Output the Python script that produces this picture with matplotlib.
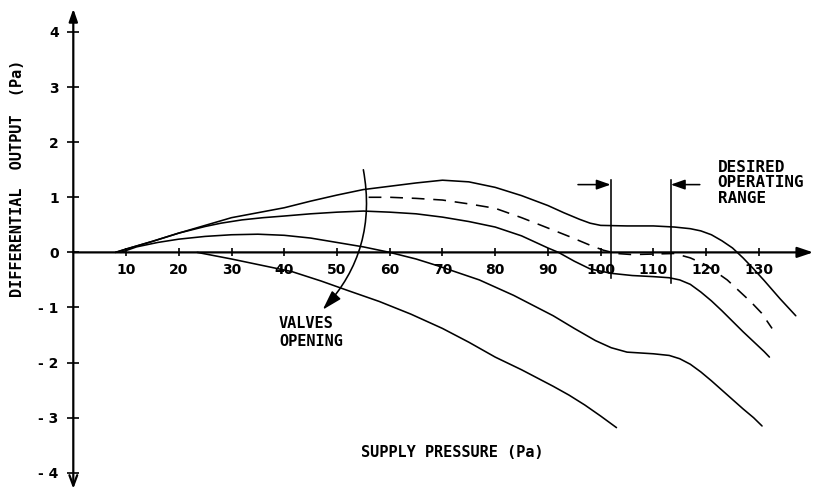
import matplotlib
matplotlib.use("Agg")
import matplotlib.pyplot as plt

# ---- data -------------------------------------------------------------
# Differential output vs supply pressure, one curve per valve setting
curve_a_x = [8, 10, 15, 20, 25, 30, 35, 40, 45, 50, 55, 60, 65, 70, 75, 80, 85,
             90, 93, 96, 98, 100, 105, 110, 114, 117, 119, 121, 123, 125, 127,
             129, 131, 134, 137]
curve_a_y = [0, 0.06, 0.2, 0.35, 0.49, 0.63, 0.72, 0.81, 0.93, 1.04, 1.14, 1.2,
             1.26, 1.31, 1.28, 1.18, 1.03, 0.85, 0.72, 0.6, 0.53, 0.49, 0.48,
             0.48, 0.46, 0.43, 0.39, 0.32, 0.21, 0.08, -0.1, -0.3, -0.51,
             -0.84, -1.15]

curve_b_x = [56, 60, 65, 70, 75, 80, 85, 89, 94, 98, 100.5, 103, 106, 110, 114,
             117, 120, 124, 128.5, 130.5, 132.5]
curve_b_y = [1.0, 1.0, 0.98, 0.95, 0.88, 0.8, 0.63, 0.48, 0.29, 0.13, 0.04,
             -0.02, -0.04, -0.03, -0.02, -0.1, -0.23, -0.5, -0.9, -1.1, -1.38]

curve_c_x = [8, 10, 15, 20, 25, 28, 32, 36, 40, 45, 50, 55, 60, 65, 70, 75, 80,
             85, 90, 92, 95, 98, 102, 106, 110, 113, 115, 117, 119, 121, 123,
             125, 127, 129, 131, 132]
curve_c_y = [0, 0.06, 0.2, 0.35, 0.47, 0.53, 0.59, 0.63, 0.66, 0.7, 0.73, 0.75,
             0.73, 0.7, 0.64, 0.56, 0.46, 0.3, 0.08, 0.0, -0.16, -0.3, -0.38,
             -0.42, -0.44, -0.46, -0.5, -0.58, -0.72, -0.88, -1.06, -1.25,
             -1.44, -1.62, -1.8, -1.9]

curve_d_x = [9, 12, 16, 20, 25, 30, 35, 40, 45, 50, 55, 60, 65, 69, 77, 83.5,
             91, 95, 99, 102, 105, 110, 113, 115, 117, 119, 121, 123, 125, 127,
             129, 130.6]
curve_d_y = [0, 0.1, 0.18, 0.24, 0.29, 0.32, 0.33, 0.31, 0.26, 0.18, 0.1, 0.0,
             -0.12, -0.24, -0.5, -0.78, -1.15, -1.38, -1.6, -1.73, -1.81, -1.84,
             -1.87, -1.93, -2.03, -2.17, -2.33, -2.5, -2.67, -2.84, -3.0, -3.15]

curve_e_x = [23.5, 30, 35, 41.5, 47, 52, 58, 64, 70, 75, 80, 85, 88, 91, 94, 97,
             100, 103]
curve_e_y = [0, -0.12, -0.22, -0.35, -0.52, -0.69, -0.89, -1.12, -1.38, -1.63,
             -1.9, -2.13, -2.28, -2.43, -2.59, -2.77, -2.97, -3.18]

# desired operating range (supply pressure bounds)
range_bounds = [101.9, 113.3]
range_top = 1.32
range_bottom = [-0.47, -0.55]

x_ticks = [10, 20, 30, 40, 50, 60, 70, 80, 90, 100, 110, 120, 130]
x_tick_labels = ["10", "20", "30", "40", "50", "60", "70", "80", "90", "100",
                 "110", "120", "130"]
y_ticks = [4, 3, 2, 1, 0, -1, -2, -3, -4]
y_tick_labels = ["4", "3", "2", "1", "0", "- 1", "- 2", "- 3", "- 4"]

# ---- figure -------------------------------------------------------------
plt.rcParams["font.family"] = ["DejaVu Sans"]
fig = plt.figure(figsize=(8.19, 4.91), dpi=100)
ax = fig.add_axes([0, 0, 1, 1])
ax.set_xlim(-13.9, 141.4)
ax.set_ylim(-4.33, 4.58)

for side in ("top", "right", "left", "bottom"):
    ax.spines[side].set_visible(False)
ax.spines["left"].set_position(("data", 0))
ax.spines["bottom"].set_position(("data", 0))

ax.set_xticks(x_ticks)
ax.set_xticklabels(x_tick_labels)
ax.set_yticks(y_ticks)
ax.set_yticklabels(y_tick_labels)
ax.tick_params(axis="x", direction="inout", length=6, width=1.2, pad=4.5,
               labelsize=10)
ax.tick_params(axis="y", direction="inout", length=9, width=1.2, pad=6,
               labelsize=10)
for lab in ax.get_xticklabels() + ax.get_yticklabels():
    lab.set_fontweight("bold")

# axis lines with arrow heads
arrow_kw = dict(color="black", lw=1.6, shrinkA=0, shrinkB=0)
ax.annotate("", xy=(140.3, 0), xytext=(0, 0),
            arrowprops=dict(arrowstyle="-|>,head_length=0.95,head_width=0.32",
                            **arrow_kw))
ax.annotate("", xy=(0, 4.42), xytext=(0, 0),
            arrowprops=dict(arrowstyle="-|>,head_length=0.75,head_width=0.26",
                            **arrow_kw))
ax.annotate("", xy=(0, -4.29), xytext=(0, 0),
            arrowprops=dict(arrowstyle="->,head_length=0.75,head_width=0.28",
                            **arrow_kw))

# curves
line_kw = dict(color="black", lw=1.15, solid_capstyle="round",
               solid_joinstyle="round")
ax.plot(curve_a_x, curve_a_y, **line_kw)
ax.plot(curve_c_x, curve_c_y, **line_kw)
ax.plot(curve_d_x, curve_d_y, **line_kw)
ax.plot(curve_e_x, curve_e_y, **line_kw)
ax.plot(curve_b_x, curve_b_y, color="black", lw=1.15, dashes=(8, 5.5))

# operating range markers
for xb, yb in zip(range_bounds, range_bottom):
    ax.plot([xb, xb], [range_top, yb], color="black", lw=1.15)
range_arrow = dict(arrowstyle="-|>,head_length=0.85,head_width=0.3",
                   color="black", lw=1.15, shrinkA=0, shrinkB=0)
ax.annotate("", xy=(range_bounds[0], 1.23), xytext=(95.7, 1.23),
            arrowprops=range_arrow)
ax.annotate("", xy=(range_bounds[1], 1.23), xytext=(118.8, 1.23),
            arrowprops=range_arrow)
ax.text(122.2, 1.26, "DESIRED\nOPERATING\nRANGE", family="DejaVu Sans Mono",
        fontsize=11.5, fontweight="bold", ha="left", va="center",
        linespacing=1.05)

# valves-opening arrow
ax.annotate("", xy=(47.3, -1.04), xytext=(55.0, 1.5),
            arrowprops=dict(arrowstyle="-|>,head_length=1.2,head_width=0.36",
                            connectionstyle="arc3,rad=-0.25", color="black",
                            lw=1.15, shrinkA=0, shrinkB=0))
ax.text(39.0, -1.45, "VALVES\nOPENING", family="DejaVu Sans Mono",
        fontsize=11, fontweight="bold", ha="left", va="center",
        linespacing=1.25)

# axis titles
ax.text(71.8, -3.64, "SUPPLY PRESSURE (Pa)", family="DejaVu Sans Mono",
        fontsize=11, fontweight="bold", ha="center", va="center")
ax.text(-10.5, 1.35, "DIFFERENTIAL  OUTPUT  (Pa)", family="DejaVu Sans Mono",
        fontsize=11, fontweight="bold", ha="center", va="center", rotation=90)

fig.savefig("out.png", dpi=100)
